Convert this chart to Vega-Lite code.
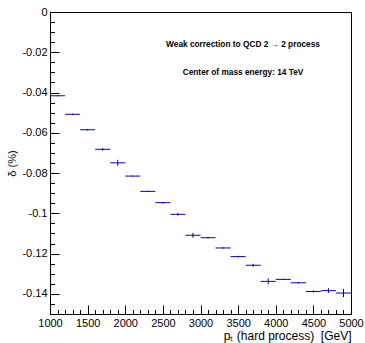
{
  "$schema": "https://vega.github.io/schema/vega-lite/v6.json",
  "width": 301,
  "height": 302,
  "autosize": {"type": "none"},
  "padding": {"left": 50, "top": 12, "right": 14, "bottom": 29},
  "background": "white",
  "config": {
    "view": {"stroke": "black", "strokeWidth": 1},
    "font": "Liberation Sans"
  },
  "datasets": {
    "bins": [
      {"xlow": 1000, "xhigh": 1200, "xcenter": 1100, "delta": -0.0416, "lo": -0.0419, "hi": -0.0413},
      {"xlow": 1200, "xhigh": 1400, "xcenter": 1300, "delta": -0.0508, "lo": -0.0511, "hi": -0.0505},
      {"xlow": 1400, "xhigh": 1600, "xcenter": 1500, "delta": -0.0585, "lo": -0.0589, "hi": -0.0581},
      {"xlow": 1600, "xhigh": 1800, "xcenter": 1700, "delta": -0.0682, "lo": -0.0689, "hi": -0.0675},
      {"xlow": 1800, "xhigh": 2000, "xcenter": 1900, "delta": -0.0749, "lo": -0.0764, "hi": -0.0734},
      {"xlow": 2000, "xhigh": 2200, "xcenter": 2100, "delta": -0.0815, "lo": -0.0818, "hi": -0.0812},
      {"xlow": 2200, "xhigh": 2400, "xcenter": 2300, "delta": -0.0891, "lo": -0.0894, "hi": -0.0888},
      {"xlow": 2400, "xhigh": 2600, "xcenter": 2500, "delta": -0.0947, "lo": -0.0951, "hi": -0.0943},
      {"xlow": 2600, "xhigh": 2800, "xcenter": 2700, "delta": -0.1005, "lo": -0.1011, "hi": -0.0999},
      {"xlow": 2800, "xhigh": 3000, "xcenter": 2900, "delta": -0.1109, "lo": -0.1121, "hi": -0.1097},
      {"xlow": 3000, "xhigh": 3200, "xcenter": 3100, "delta": -0.1121, "lo": -0.1125, "hi": -0.1117},
      {"xlow": 3200, "xhigh": 3400, "xcenter": 3300, "delta": -0.1172, "lo": -0.1175, "hi": -0.1169},
      {"xlow": 3400, "xhigh": 3600, "xcenter": 3500, "delta": -0.1215, "lo": -0.1219, "hi": -0.1211},
      {"xlow": 3600, "xhigh": 3800, "xcenter": 3700, "delta": -0.1258, "lo": -0.1265, "hi": -0.1251},
      {"xlow": 3800, "xhigh": 4000, "xcenter": 3900, "delta": -0.1338, "lo": -0.1353, "hi": -0.1323},
      {"xlow": 4000, "xhigh": 4200, "xcenter": 4100, "delta": -0.1328, "lo": -0.1331, "hi": -0.1325},
      {"xlow": 4200, "xhigh": 4400, "xcenter": 4300, "delta": -0.1345, "lo": -0.1349, "hi": -0.1341},
      {"xlow": 4400, "xhigh": 4600, "xcenter": 4500, "delta": -0.1388, "lo": -0.1393, "hi": -0.1383},
      {"xlow": 4600, "xhigh": 4800, "xcenter": 4700, "delta": -0.1384, "lo": -0.1396, "hi": -0.1372},
      {"xlow": 4800, "xhigh": 5000, "xcenter": 4900, "delta": -0.1396, "lo": -0.1416, "hi": -0.1376}
    ],
    "labels": [
      {"x": 3565, "y": -0.01625, "label": "Weak correction to QCD 2 → 2 process"},
      {"x": 3565, "y": -0.0303, "label": "Center of mass energy: 14 TeV"}
    ]
  },
  "layer": [
    {
      "data": {"name": "bins"},
      "mark": {"type": "rule", "color": "#0000c0", "strokeWidth": 1},
      "encoding": {
        "x": {
          "field": "xlow", "type": "quantitative",
          "scale": {"domain": [1000, 5000], "nice": false, "zero": false},
          "axis": {
            "orient": "bottom",
            "values": [1000, 1500, 2000, 2500, 3000, 3500, 4000, 4500, 5000],
            "format": "d",
            "tickSize": -9, "labelPadding": 12, "tickColor": "black", "domain": false, "grid": false,
            "labelFontSize": 11, "labelColor": "black", "labelFont": "Liberation Sans", "labelFlush": false,
            "title": "pₜ (hard process) \u00a0[GeV]", "titleAnchor": "end", "titleFontSize": 12,
            "titleFontWeight": "normal", "titleColor": "black", "titleFont": "Liberation Sans", "titlePadding": 2
          }
        },
        "x2": {"field": "xhigh"},
        "y": {
          "field": "delta", "type": "quantitative",
          "scale": {"domain": [-0.15, 0], "nice": false, "zero": false},
          "axis": {
            "orient": "left",
            "values": [0, -0.02, -0.04, -0.06, -0.08, -0.1, -0.12, -0.14],
            "labelExpr": "datum.value == 0 ? '0' : '-' + format(-datum.value, '~g')",
            "tickSize": -9, "labelPadding": 12, "tickColor": "black", "domain": false, "grid": false,
            "labelFontSize": 11, "labelColor": "black", "labelFont": "Liberation Sans", "labelFlush": false,
            "title": "δ (%)", "titleFontSize": 11, "titleFontWeight": "normal", "titleColor": "black",
            "titleFont": "Liberation Sans", "titlePadding": 4
          }
        }
      }
    },
    {
      "data": {"name": "bins"},
      "mark": {"type": "rule", "color": "#000080", "strokeWidth": 1},
      "encoding": {
        "x": {
          "field": "xcenter", "type": "quantitative",
          "scale": {"domain": [1000, 5000], "nice": false, "zero": false},
          "axis": {
            "orient": "bottom",
            "values": [1000,1100,1200,1300,1400,1500,1600,1700,1800,1900,2000,2100,2200,2300,2400,2500,2600,2700,2800,2900,3000,3100,3200,3300,3400,3500,3600,3700,3800,3900,4000,4100,4200,4300,4400,4500,4600,4700,4800,4900,5000],
            "tickSize": -4.5, "labels": false, "tickColor": "black", "domain": false, "grid": false, "title": null
          }
        },
        "y": {
          "field": "lo", "type": "quantitative",
          "scale": {"domain": [-0.15, 0], "nice": false, "zero": false},
          "axis": {
            "orient": "left",
            "values": [0,-0.005,-0.01,-0.015,-0.02,-0.025,-0.03,-0.035,-0.04,-0.045,-0.05,-0.055,-0.06,-0.065,-0.07,-0.075,-0.08,-0.085,-0.09,-0.095,-0.1,-0.105,-0.11,-0.115,-0.12,-0.125,-0.13,-0.135,-0.14,-0.145,-0.15],
            "tickSize": -4.5, "labels": false, "tickColor": "black", "domain": false, "grid": false, "title": null
          }
        },
        "y2": {"field": "hi"}
      }
    },
    {
      "data": {"name": "labels"},
      "mark": {"type": "text", "fontWeight": "bold", "fontSize": 8.3, "font": "Liberation Sans", "color": "black"},
      "encoding": {
        "x": {"field": "x", "type": "quantitative", "axis": null},
        "y": {"field": "y", "type": "quantitative", "axis": null},
        "text": {"field": "label"}
      }
    }
  ],
  "resolve": {"axis": {"x": "independent", "y": "independent"}}
}
